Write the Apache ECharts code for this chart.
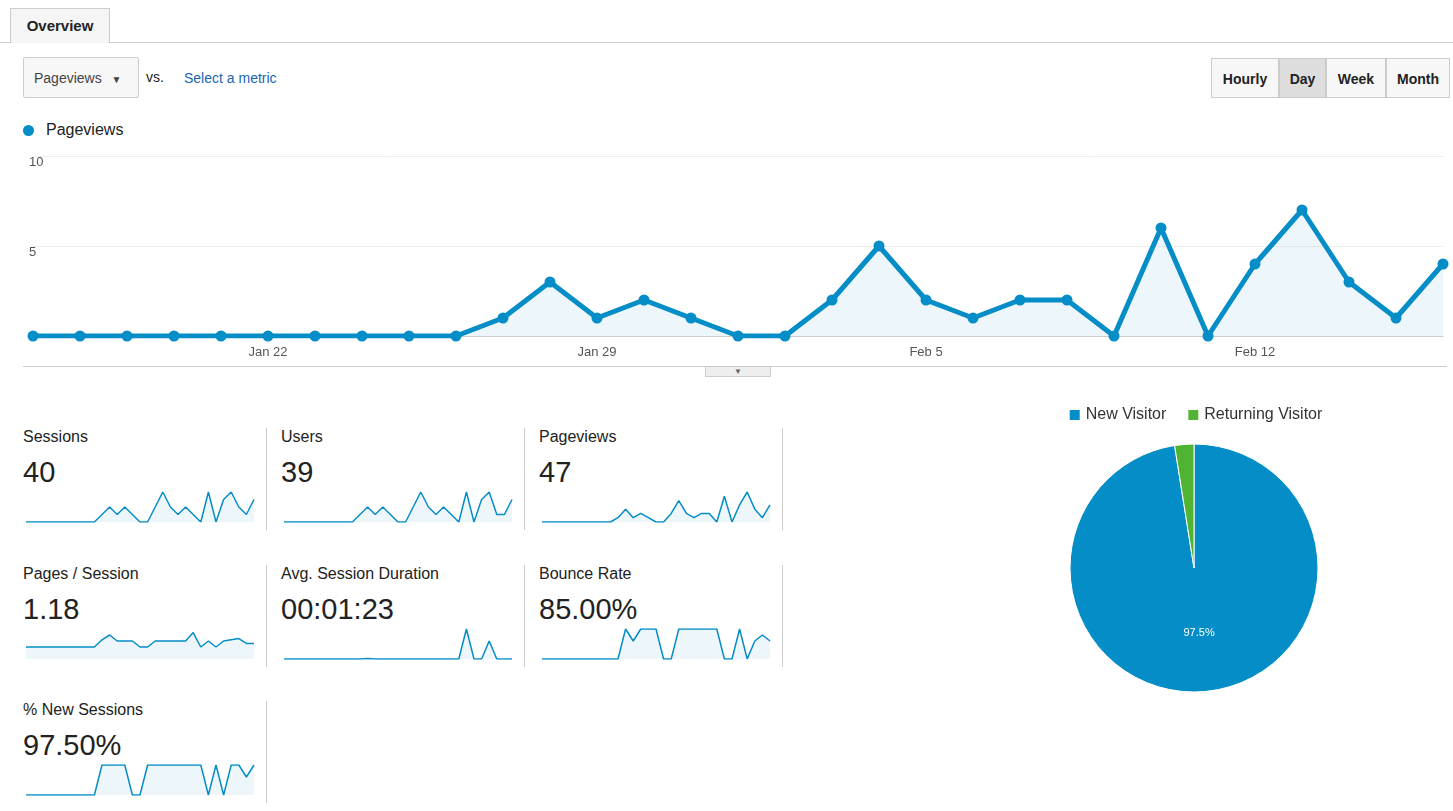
<!DOCTYPE html>
<html><head><meta charset="utf-8">
<script src="https://cdn.jsdelivr.net/npm/echarts@6/dist/echarts.min.js"></script>
<style>
body{margin:0;width:1453px;height:811px;background:#fff;font-family:Arial,"Liberation Sans",sans-serif;position:relative;overflow:hidden;color:#222}
.abs{position:absolute}
.tab{left:10px;top:8px;width:98px;height:34px;border:1px solid #ccc;border-bottom:none;background:#f5f5f5;font-weight:bold;font-size:15px;line-height:34px;text-align:center}
.btn{top:58px;height:40px;border:1px solid #ccc;background:#f7f7f7;font-weight:bold;font-size:14px;line-height:40px;text-align:center;box-sizing:border-box}
.mt{font-size:16px;color:#222}
.mv{font-size:29px;color:#222}
.vl{width:1px;background:#ccc}
</style></head><body>
<div class="abs" style="left:0;top:42px;width:1453px;height:1px;background:#ccc"></div>
<div class="abs tab">Overview</div>
<div class="abs" style="left:23px;top:57px;width:116px;height:41px;border:1px solid #ccc;border-radius:2px;background:#f7f7f7;font-size:14px;line-height:41px;color:#444;box-sizing:border-box;padding-left:10px">Pageviews <span style="font-size:10px;margin-left:6px">&#9660;</span></div>
<div class="abs" style="left:146px;top:69px;font-size:14px">vs.</div>
<div class="abs" style="left:184px;top:70px;font-size:14px;color:#1a64b4">Select a metric</div>
<div class="abs btn" style="left:1211px;width:68px">Hourly</div>
<div class="abs btn" style="left:1279px;width:47px;background:#ddd">Day</div>
<div class="abs btn" style="left:1326px;width:60px">Week</div>
<div class="abs btn" style="left:1386px;width:64px">Month</div>
<div class="abs" style="left:23px;top:125px;width:11px;height:11px;border-radius:6px;background:#058dc7"></div>
<div class="abs" style="left:46px;top:121px;font-size:16px">Pageviews</div>
<div id="main" class="abs" style="left:0;top:140px;width:1453px;height:230px"></div>
<div class="abs" style="left:23px;top:366px;width:1424px;height:1px;background:#ccc"></div>
<div class="abs" style="left:705px;top:366px;width:66px;height:11px;border:1px solid #ccc;background:#eee;font-size:8px;text-align:center;color:#666;box-sizing:border-box;line-height:10px">&#9660;</div>
<div id="cells"></div>
<div id="pie" class="abs" style="left:1000px;top:390px;width:390px;height:320px"></div>
<script>
var dates = [];
for (var d = 17; d <= 31; d++) dates.push('Jan ' + d);
for (var d2 = 1; d2 <= 16; d2++) dates.push('Feb ' + d2);
var pageviews = [0,0,0,0,0,0,0,0,0,0,1,3,1,2,1,0,0,2,5,2,1,2,2,0,6,0,4,7,3,1,4];
var shownLabels = ['Jan 22','Jan 29','Feb 5','Feb 12'];

var metricNames = ['Sessions','Users','Pageviews','Pages / Session','Avg. Session Duration','Bounce Rate','% New Sessions'];
var metricValues = ['40','39','47','1.18','00:01:23','85.00%','97.50%'];
var sparkSessions = [0,0,0,0,0,0,0,0,0,0,1,2,1,2,1,0,0,2,4,2,1,2,1,0,4,0,3,4,2,1,3];
var sparkUsers =    [0,0,0,0,0,0,0,0,0,0,1,2,1,2,1,0,0,2,4,2,1,2,1,0,4,0,3,4,1,1,3];
var sparkPv =       [0,0,0,0,0,0,0,0,0,0,1,3,1,2,1,0,0,2,5,2,1,2,2,0,6,0,4,7,3,1,4];
var sparkPps =      [1,1,1,1,1,1,1,1,1,1,1.6,2,1.5,1.5,1.5,1,1,1.5,1.5,1.5,1.5,1.5,2.2,1,1.5,1,1.5,1.6,1.7,1.3,1.3];
var sparkDur =      [0,0,0,0,0,0,0,0,0,0,0,0.2,0,0,0,0,0,0,0,0,0,0,0,0,10,0,0,6,0,0,0];
var sparkBounce =   [0,0,0,0,0,0,0,0,0,0,0,1,0.6,1,1,1,0,0,1,1,1,1,1,1,0,0,1,0,0.6,0.8,0.6,1,1].slice(0,31);
var sparkNew =      [0,0,0,0,0,0,0,0,0,0,1,1,1,1,0,0,1,1,1,1,1,1,1,1,0,1,0,1,1,0.6,1];
var sparks = [sparkSessions,sparkUsers,sparkPv,sparkPps,sparkDur,sparkBounce,sparkNew];
var pieNames = ['New Visitor','Returning Visitor'];
var pieValues = [97.5, 2.5];

var myChart = echarts.init(document.getElementById('main'));
myChart.setOption({
  animation: false,
  grid: {left: 33, right: 10, top: 16, bottom: 34},
  xAxis: {
    type: 'category', data: dates, boundaryGap: false,
    axisLine: {lineStyle: {color: '#ccc'}}, axisTick: {show: false},
    axisLabel: {interval: 0, color: '#555', fontSize: 13, margin: 10,
      formatter: function (v) { return shownLabels.indexOf(v) >= 0 ? v : ''; }}
  },
  yAxis: {
    type: 'value', min: 0, max: 10, interval: 5,
    splitLine: {lineStyle: {color: '#eee'}},
    axisLabel: {inside: true, verticalAlign: 'top', margin: -4, color: '#555', fontSize: 13,
      formatter: function (v) { return v === 0 ? '' : v; }}
  },
  series: [{
    type: 'line', data: pageviews, symbol: 'circle', symbolSize: 11,
    lineStyle: {width: 5, color: '#058dc7'}, itemStyle: {color: '#058dc7'},
    areaStyle: {color: 'rgba(5,141,199,0.1)'}
  }]
});

// metric cells
var cellsEl = document.getElementById('cells');
var colX = [23, 281, 539], rowY = [428, 565, 701];
metricNames.forEach(function (name, i) {
  var x = colX[i % 3], y = rowY[Math.floor(i / 3)];
  var h = '<div class="abs mt" style="left:' + x + 'px;top:' + y + 'px">' + name + '</div>' +
    '<div class="abs mv" style="left:' + x + 'px;top:' + (y + 28) + 'px">' + metricValues[i] + '</div>' +
    '<div id="sp' + i + '" class="abs" style="left:' + (x + 2) + 'px;top:' + (y + 62) + 'px;width:230px;height:34px"></div>';
  cellsEl.insertAdjacentHTML('beforeend', h);
  if (i % 3 < 2 || i === 2) {
    cellsEl.insertAdjacentHTML('beforeend', '<div class="abs vl" style="left:' + (x + 243) + 'px;top:' + y + 'px;height:102px"></div>');
  }
});
cellsEl.insertAdjacentHTML('beforeend', '<div class="abs vl" style="left:266px;top:701px;height:102px"></div>');
cellsEl.insertAdjacentHTML('beforeend', '<div class="abs vl" style="left:782px;top:428px;height:102px"></div>');
cellsEl.insertAdjacentHTML('beforeend', '<div class="abs vl" style="left:782px;top:565px;height:102px"></div>');

sparks.forEach(function (s, i) {
  var c = echarts.init(document.getElementById('sp' + i));
  c.setOption({
    animation: false,
    grid: {left: 1, right: 1, top: 2, bottom: 2},
    xAxis: {type: 'category', data: dates, boundaryGap: false, show: false},
    yAxis: {type: 'value', show: false, min: 0},
    series: [{type: 'line', data: s, symbol: 'none', lineStyle: {width: 1.5, color: '#058dc7'},
      areaStyle: {color: 'rgba(5,141,199,0.1)'}}]
  });
});

var pie = echarts.init(document.getElementById('pie'));
pie.setOption({
  animation: false,
  color: ['#058dc7', '#50b432'],
  legend: {top: 12, left: 'center', icon: 'rect', itemWidth: 12, itemHeight: 12, itemGap: 20,
    textStyle: {fontSize: 16, color: '#333'}, data: pieNames},
  series: [{
    type: 'pie', center: [194, 178], radius: [0, 124], startAngle: 90, clockwise: true,
    itemStyle: {borderColor: '#fff', borderWidth: 1},
    label: {position: 'inside', color: '#fff', fontSize: 11,
      formatter: function (p) { return p.dataIndex === 0 ? p.value + '%' : ''; }},
    labelLine: {show: false},
    data: pieNames.map(function (n, i) { return {name: n, value: pieValues[i]}; })
  }]
});
</script>
</body></html>
